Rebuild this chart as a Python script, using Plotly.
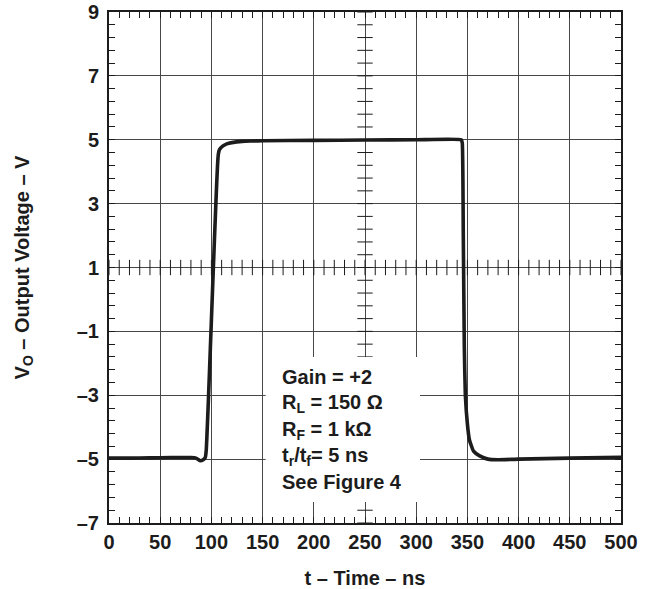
import numpy as np
import plotly.graph_objects as go

# output pulse
time_ns = [0, 20, 40, 60, 80, 85, 89, 92, 94, 95, 97, 99, 101, 103, 105, 106,
           106.8, 108, 111, 115, 120, 130, 140, 150, 200, 250, 300, 344,
           345, 346, 347, 348, 350, 352, 356, 362, 370, 380, 400, 450, 500]
output_v = [-4.97, -4.97, -4.96, -4.95, -4.95, -4.97, -5.05, -5.02, -4.95, -4.7,
            -3.2, -1.5, 0.2, 1.9, 3.5, 4.2, 4.55, 4.7, 4.8, 4.87, 4.91, 4.95,
            4.96, 4.97, 4.98, 4.99, 5.0, 5.0, 4.9, 2.0, -1.5, -3.0, -3.9, -4.4,
            -4.75, -4.9, -5.0, -5.02, -5.0, -4.97, -4.94]

x_ticks = [0, 50, 100, 150, 200, 250, 300, 350, 400, 450, 500]
y_ticks = [-7, -5, -3, -1, 1, 3, 5, 7, 9]
y_tick_labels = ["–7", "–5", "–3", "–1", "1", "3", "5", "7", "9"]

conditions = [
    "Gain = +2",
    "R<sub>L</sub> = 150 Ω",
    "R<sub>F</sub> = 1 kΩ",
    "t<sub>r</sub>/t<sub>f</sub>= 5 ns",
    "See Figure 4",
]
condition_y = [-2.43, -3.25, -4.09, -4.93, -5.72]

FONT = "Liberation Sans, Arial, sans-serif"
INK = "#1c1c1c"
GRID = "#474747"

x_minor = np.arange(0, 501, 10)
y_minor = np.arange(-7, 9.01, 0.4)

fig = go.Figure()

# scope graticule crosses on the centre lines
fig.add_trace(go.Scatter(
    x=x_minor, y=[1] * len(x_minor), mode="markers",
    marker=dict(symbol="line-ns", size=11, line=dict(width=1, color=INK)),
    hoverinfo="skip", showlegend=False
))
fig.add_trace(go.Scatter(
    x=[250] * len(y_minor), y=y_minor, mode="markers",
    marker=dict(symbol="line-ew", size=11, line=dict(width=1, color=INK)),
    hoverinfo="skip", showlegend=False
))

fig.add_trace(go.Scatter(
    x=time_ns, y=output_v, mode="lines",
    line=dict(color=INK, width=3.6, shape="spline", smoothing=0.4),
    hoverinfo="skip", showlegend=False
))

# white box behind the test conditions
fig.add_shape(
    type="rect", xref="x", yref="y", x0=153, x1=303.7, y0=-6.34, y1=-1.8,
    fillcolor="white", line=dict(width=0), layer="above"
)

for text, y in zip(conditions, condition_y):
    fig.add_annotation(
        x=167, y=y, xref="x", yref="y", text=text, showarrow=False,
        xanchor="left", yanchor="middle", align="left",
        font=dict(family=FONT, size=20, color=INK, weight="bold")
    )

axis_common = dict(
    showline=True, linewidth=2, linecolor=INK, mirror="allticks",
    showgrid=True, gridcolor=GRID, gridwidth=1, zeroline=False,
    ticks="inside", ticklen=6, tickcolor=INK, tickwidth=1,
    tickfont=dict(family=FONT, size=20, color=INK, weight="bold"),
    fixedrange=True,
)

fig.update_xaxes(
    **axis_common,
    range=[0, 500], tickvals=x_ticks,
    minor=dict(dtick=10, tick0=0, ticks="inside", ticklen=6,
               tickcolor=INK, tickwidth=1, showgrid=False),
    title=dict(text="t – Time – ns", standoff=22,
               font=dict(family=FONT, size=20, color=INK, weight="bold")),
)
fig.update_yaxes(
    **axis_common,
    range=[-7, 9], tickvals=y_ticks, ticktext=y_tick_labels,
    ticklabelstandoff=4,
    minor=dict(dtick=0.4, tick0=-7, ticks="inside", ticklen=6,
               tickcolor=INK, tickwidth=1, showgrid=False),
    title=dict(text="V<sub>O</sub> – Output Voltage – V", standoff=42,
               font=dict(family=FONT, size=20, color=INK, weight="bold")),
)

fig.update_layout(
    width=662, height=589,
    margin=dict(l=109, r=41, t=12, b=66, autoexpand=False),
    paper_bgcolor="white", plot_bgcolor="white",
    font=dict(family=FONT, color=INK),
)

fig.write_html(
    "out.html",
    config={"displayModeBar": False},
    post_script="document.body.style.margin='0';",
)
